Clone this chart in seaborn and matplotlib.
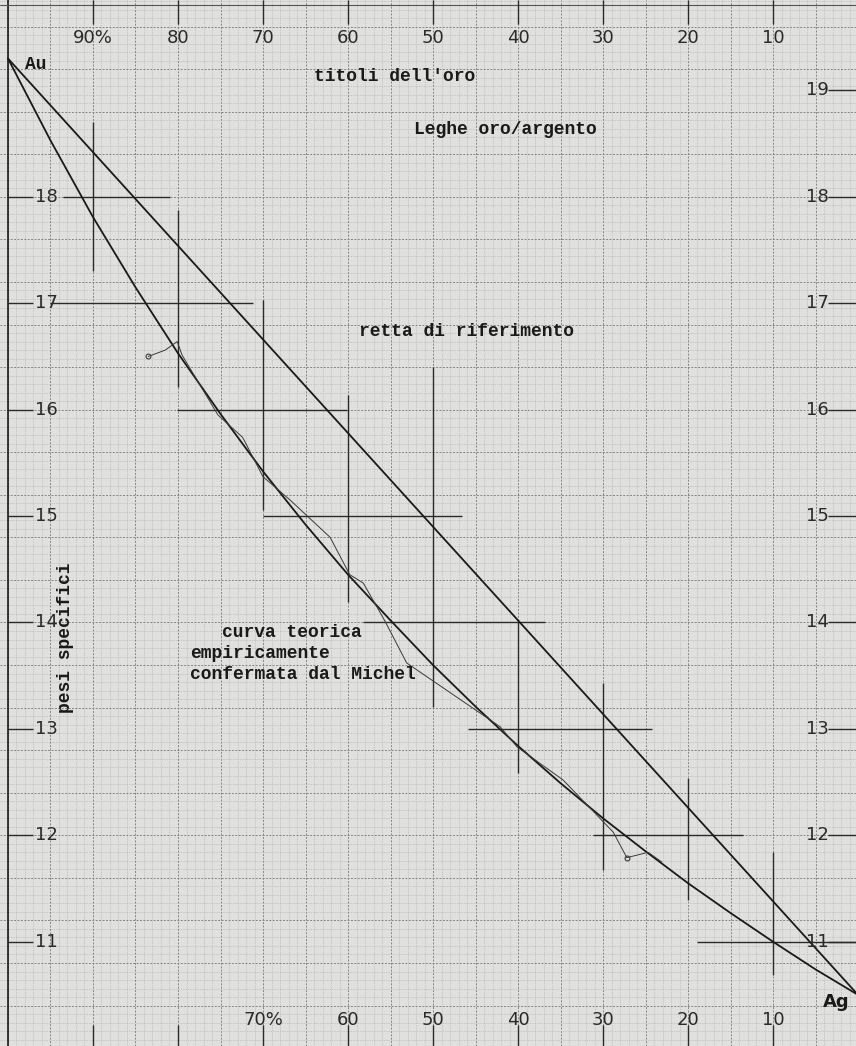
import numpy as np
import matplotlib
matplotlib.use("Agg")
import matplotlib.pyplot as plt
import seaborn as sns

sns.set_theme(style="white")
plt.rcParams["font.family"] = ["DejaVu Sans"]

# ----------------------------
# Data
# ----------------------------
# theoretical curve (gold % vs specific weight)
curve_pct = [100, 95, 90, 85, 80, 75, 70, 65, 60, 55, 50, 45, 40, 35, 30, 25, 20, 15, 10, 5, 0]
curve_density = [19.3, 18.53, 17.81, 17.15, 16.53, 15.96, 15.42, 14.92, 14.45, 14.02, 13.60,
                 13.21, 12.84, 12.49, 12.16, 11.85, 11.55, 11.27, 11.00, 10.74, 10.5]

# reference straight line Au -> Ag
ref_pct = [100, 0]
ref_density = [19.3, 10.5]

# empirical line (Michel)
michel_pct = [83.5, 81.5, 80.1, 79.5, 75.3, 72.4, 70.0, 66.8, 62.1, 59.8, 58.2, 55.7, 53.1,
              42.1, 40.1, 34.7, 28.8, 27.2, 24.7, 23.1]
michel_density = [16.50, 16.56, 16.64, 16.51, 15.95, 15.74, 15.37, 15.15, 14.80, 14.45, 14.37,
                  14.02, 13.62, 13.02, 12.83, 12.52, 12.03, 11.79, 11.84, 11.75]
michel_marks = [0, 17]

# heavy drawn grid segments
h_levels = [18, 17, 16, 15, 14, 13, 12, 11]
h_from = [93.5, 95.1, 80.1, 70.0, 58.2, 45.9, 31.2, 18.9]
h_to = [80.9, 71.2, 60.1, 46.6, 36.8, 24.2, 13.5, 0.0]

v_levels = [90, 80, 70, 60, 50, 40, 30, 20, 10]
v_top = [18.7, 17.88, 17.03, 16.14, 16.40, 14.02, 13.43, 12.54, 11.84]
v_bottom = [17.3, 16.21, 15.06, 14.19, 13.21, 12.59, 11.67, 11.39, 10.69]

# tick labels
top_labels = ["90%", "80", "70", "60", "50", "40", "30", "20", "10"]
top_values = [90, 80, 70, 60, 50, 40, 30, 20, 10]
bottom_labels = ["70%", "60", "50", "40", "30", "20", "10"]
bottom_values = [70, 60, 50, 40, 30, 20, 10]
left_values = [18, 17, 16, 15, 14, 13, 12, 11]
right_values = [19, 18, 17, 16, 15, 14, 13, 12, 11]

# ----------------------------
# Figure
# ----------------------------
paper = "#e0e0de"
ink = "#1a1a1a"
mono = ["Liberation Mono", "DejaVu Sans Mono"]

fig = plt.figure(figsize=(8.56, 10.46), dpi=100, facecolor=paper)
ax = fig.add_axes([0, 0, 1, 1], facecolor=paper)
ax.set_xlim(100.94, 0.24)
ax.set_ylim(10.02, 19.85)
ax.axis("off")

# graph paper grid
fine_x = np.arange(0, 101, 1)
fine_y = 18 + 0.08 * np.arange(-100, 26)
for xv in fine_x:
    if xv % 5 == 0:
        ax.axvline(xv, color="#858585", lw=0.7, ls=(0, (2, 1.5)), zorder=1)
    else:
        ax.axvline(xv, color="#acacac", lw=0.5, ls=(0, (1, 1.5)), zorder=1)
for k, yv in zip(range(-100, 26), fine_y):
    if k % 5 == 0:
        ax.axhline(yv, color="#858585", lw=0.7, ls=(0, (2, 1.5)), zorder=1)
    else:
        ax.axhline(yv, color="#acacac", lw=0.5, ls=(0, (1, 1.5)), zorder=1)

# borders
ax.axvline(100, color=ink, lw=1.2, zorder=2)
ax.axhline(19.8, color="#555555", lw=0.8, zorder=2)

# heavy drawn segments
ax.hlines(h_levels, h_from, h_to, color="#2a2a2a", lw=1.0, zorder=3)
ax.vlines(v_levels, v_bottom, v_top, color="#2a2a2a", lw=1.0, zorder=3)

# edge ticks
ax.vlines(top_values, 19.62, 19.85, color="#2a2a2a", lw=1.0, zorder=3)
ax.vlines(top_values, 10.02, 10.22, color="#2a2a2a", lw=1.0, zorder=3)
ax.hlines(left_values, 100, 97.1, color="#2a2a2a", lw=1.0, zorder=3)
ax.hlines(right_values, 3.5, 0, color="#2a2a2a", lw=1.0, zorder=3)

# curves
sns.lineplot(x=ref_pct, y=ref_density, ax=ax, color=ink, lw=1.3, sort=False, zorder=4)
sns.lineplot(x=curve_pct, y=curve_density, ax=ax, color=ink, lw=1.3, sort=False, zorder=4)
sns.lineplot(x=michel_pct, y=michel_density, ax=ax, color="#3a3a3a", lw=0.7, sort=False, zorder=4)
ax.plot([michel_pct[i] for i in michel_marks], [michel_density[i] for i in michel_marks],
        ls="none", marker="o", ms=3.5, mfc="none", mec="#3a3a3a", mew=0.8, zorder=5)

# tick labels
num_kw = dict(fontsize=13, color="#2a2a2a", ha="center", va="center", zorder=6)
for lab, val in zip(top_labels, top_values):
    ax.text(val, 19.49, lab, **num_kw)
for lab, val in zip(bottom_labels, bottom_values):
    ax.text(val, 10.265, lab, **num_kw)
for val in left_values:
    ax.text(95.5, val, str(val), **num_kw)
for val in right_values:
    ax.text(4.8, val, str(val), **num_kw)

# texts
txt_kw = dict(fontsize=13, color=ink, family=mono, fontweight="bold", zorder=6)
ax.text(96.7, 19.24, "Au", ha="center", va="center", **txt_kw)
ax.text(2.6, 10.43, "Ag", ha="center", va="center", fontsize=13, color=ink,
        fontweight="bold", zorder=6)
ax.text(54.5, 19.13, "titoli dell'oro", ha="center", va="center", **txt_kw)
ax.text(41.5, 18.63, "Leghe oro/argento", ha="center", va="center", **txt_kw)
ax.text(46.1, 16.73, "retta di riferimento", ha="center", va="center", **txt_kw)
ax.text(74.8, 13.91, "curva teorica", ha="left", va="center", **txt_kw)
ax.text(78.6, 13.71, "empiricamente", ha="left", va="center", **txt_kw)
ax.text(78.6, 13.51, "confermata dal Michel", ha="left", va="center", **txt_kw)
ax.text(93.2, 13.86, "pesi specifici", ha="center", va="center", rotation=90, **txt_kw)

fig.savefig("out.png", dpi=100, facecolor=paper)
